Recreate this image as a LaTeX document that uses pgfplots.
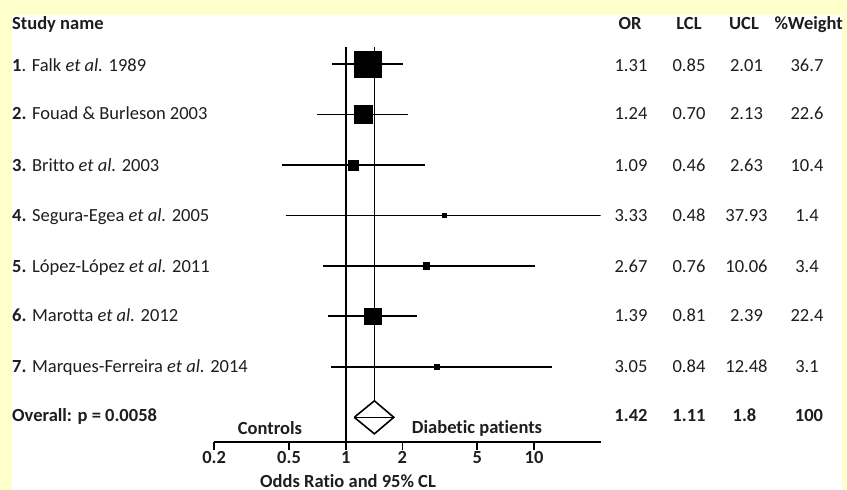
\documentclass[border=0pt]{standalone}
\usepackage{pgfplots}
\pgfplotsset{compat=1.18}
\usepackage{fontspec}
\setmainfont{Carlito}[Ligatures=NoCommon]
\definecolor{bgyellow}{RGB}{255,255,204}
\definecolor{txt}{RGB}{30,30,30}
\begin{document}
\begin{tikzpicture}
\fontsize{18.5bp}{21bp}\selectfont
\path[use as bounding box] (0bp,0bp) rectangle (847bp,-490bp);
\fill[bgyellow] (0bp,0bp) rectangle (847bp,-490bp);
\fill[white] (11.5bp,-15bp) rectangle (842bp,-490bp);
\begin{axis}[
  at={(214.1bp,-442.3bp)}, anchor=south west,
  scale only axis, width=386.6bp, height=395.3bp,
  xmode=log, xmin=0.2, xmax=22.6, ymin=-0.495, ymax=7.337,
  axis x line*=bottom, axis y line=none,
  x axis line style={-, line width=1.8bp, black},
  xtick={0.2,0.5,1,2,5,10}, xticklabels={0.2,0.5,1,2,5,10},
  minor xtick={},
  tick align=outside, major tick length=8bp,
  tick style={line width=1.8bp, black},
  xticklabel style={font=\fontsize{18.5bp}{21bp}\selectfont\bfseries, text=txt, inner sep=0pt, yshift=-1bp},
]
% reference lines
\addplot[black, line width=1.8bp] coordinates {(1,-0.495) (1,7.337)};
\addplot[black, line width=1.8bp] coordinates {(1.42,0.327) (1.42,7.337)};
% confidence intervals
\addplot[black, line width=1.8bp] coordinates {(0.85,7) (2.01,7)};
\addplot[black, line width=1.8bp] coordinates {(0.70,6) (2.13,6)};
\addplot[black, line width=1.8bp] coordinates {(0.46,5) (2.63,5)};
\addplot[black, line width=1.8bp] coordinates {(0.48,4) (37.93,4)};
\addplot[black, line width=1.8bp] coordinates {(0.76,3) (10.06,3)};
\addplot[black, line width=1.8bp] coordinates {(0.81,2) (2.39,2)};
\addplot[black, line width=1.8bp] coordinates {(0.84,1) (12.48,1)};
% point estimates (size ~ weight)
\addplot[only marks, mark=square*, mark size=13.3bp, black] coordinates {(1.31,7)};
\addplot[only marks, mark=square*, mark size=9bp, black] coordinates {(1.24,6)};
\addplot[only marks, mark=square*, mark size=5bp, black] coordinates {(1.09,5)};
\addplot[only marks, mark=square*, mark size=2bp, black] coordinates {(3.33,4)};
\addplot[only marks, mark=square*, mark size=3.3bp, black] coordinates {(2.67,3)};
\addplot[only marks, mark=square*, mark size=8.3bp, black] coordinates {(1.39,2)};
\addplot[only marks, mark=square*, mark size=2.7bp, black] coordinates {(3.05,1)};
% overall diamond
\addplot[fill=white, draw=black, line width=1.6bp] coordinates {(1.11,0) (1.42,0.327) (1.8,0) (1.42,-0.327) (1.11,0)};
\addplot[black, line width=1.6bp] coordinates {(1.11,0) (1.8,0)};
\end{axis}
\begin{scope}[x=1bp, y=1bp, every node/.style={inner sep=0pt, text=txt}]
\node[anchor=base west] at (12,-29) {\textbf{Study name}};
\node[anchor=base west] at (12,-71) {\textbf{1}. Falk \textit{et al.} 1989};
\node[anchor=base west] at (12,-119) {\textbf{2.} Fouad \& Burleson 2003};
\node[anchor=base west] at (12,-171) {\textbf{3.} Britto \textit{et al.} 2003};
\node[anchor=base west] at (12,-221) {\textbf{4.} Segura-Egea \textit{et al.} 2005};
\node[anchor=base west] at (12,-272.7) {\textbf{5.} López-López \textit{et al.} 2011};
\node[anchor=base west] at (12,-321.7) {\textbf{6.} Marotta \textit{et al.} 2012};
\node[anchor=base west] at (12,-372.7) {\textbf{7.} Marques-Ferreira \textit{et al.} 2014};
\node[anchor=base west] at (12,-421.7) {\textbf{Overall: p = 0.0058}};
\node[anchor=base] at (630,-29.3) {\textbf{OR}};
\node[anchor=base] at (689,-29.3) {\textbf{LCL}};
\node[anchor=base] at (744,-29.3) {\textbf{UCL}};
\node[anchor=base] at (808.7,-29.3) {\textbf{\%Weight}};
\foreach \y/\a/\b/\c/\d in {71/1.31/0.85/2.01/36.7, 119/1.24/0.70/2.13/22.6, 171/1.09/0.46/2.63/10.4, 221/3.33/0.48/37.93/1.4, 272.7/2.67/0.76/10.06/3.4, 321.7/1.39/0.81/2.39/22.4, 372.7/3.05/0.84/12.48/3.1}{
  \node[anchor=base] at (631,-\y) {\a};
  \node[anchor=base] at (689,-\y) {\b};
  \node[anchor=base] at (746.5,-\y) {\c};
  \node[anchor=base] at (807,-\y) {\d};
}
\node[anchor=base] at (631,-421.7) {\textbf{1.42}};
\node[anchor=base] at (689,-421.7) {\textbf{1.11}};
\node[anchor=base] at (744.5,-421.7) {\textbf{1.8}};
\node[anchor=base] at (809,-421.7) {\textbf{100}};
\node[anchor=base] at (270,-434) {\textbf{Controls}};
\node[anchor=base] at (477,-433.5) {\textbf{Diabetic patients}};
\node[anchor=base] at (348,-487) {\textbf{Odds Ratio and 95\% CL}};
\end{scope}
\end{tikzpicture}
\end{document}
